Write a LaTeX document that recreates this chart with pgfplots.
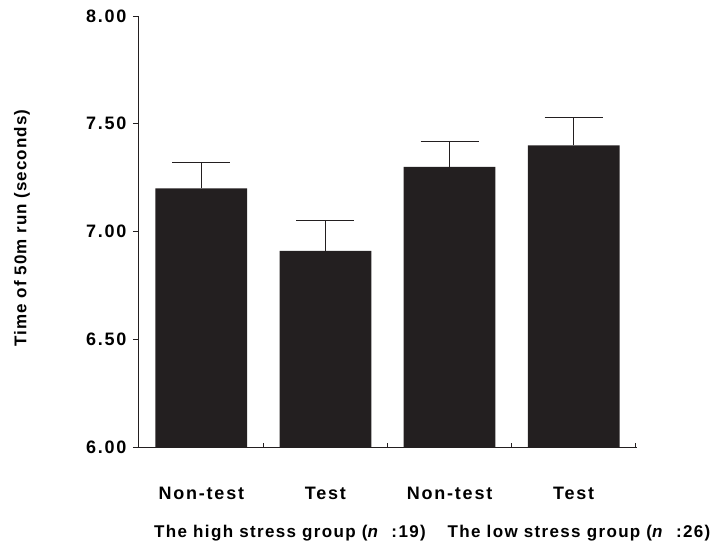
\documentclass[border=0pt]{standalone}
\usepackage{fontspec}
\setmainfont{Liberation Sans}
\newfontfamily\lsfont[LetterSpace=10]{Liberation Sans}
\newfontfamily\lsfontb[LetterSpace=6]{Liberation Sans}
\newfontfamily\lsfontc[LetterSpace=8]{Liberation Sans}
\usepackage{pgfplots}
\pgfplotsset{compat=1.18}
\definecolor{barblack}{RGB}{35,31,32}
\begin{document}
\begin{tikzpicture}
\path[use as bounding box] (-138pt,-107pt) rectangle (576pt,447pt);
\begin{axis}[
  at={(0pt,0pt)}, anchor=south west,
  scale only axis, width=499pt, height=431pt,
  xmin=-0.51, xmax=3.51, ymin=6, ymax=8,
  axis lines=left,
  axis line style={-, line width=0.9pt, color=barblack},
  tick style={line width=0.8pt, color=barblack},
  tick align=outside,
  major tick length=5pt,
  ytick={6,6.5,7,7.5,8},
  /pgf/number format/assume math mode=true,
  yticklabel style={/pgf/number format/.cd, fixed, fixed zerofill, precision=2, /tikz/.cd,
    font=\lsfont\bfseries\fontsize{18}{21}\selectfont, xshift=-3pt},
  xtick={0,1,2,3},
  xticklabels={Non-test,Test,Non-test,Test},
  major x tick style={draw=none},
  minor xtick={0.5,1.5,2.5,3.5},
  minor tick length=4pt,
  minor x tick style={yshift=4pt, line width=0.8pt},
  xticklabel style={font=\lsfont\bfseries\fontsize{18}{21}\selectfont, anchor=center, yshift=-41pt},
]
\addplot[ybar, bar width=0.74, fill=barblack, draw=none,
  error bars/.cd, y dir=plus, y explicit,
  error bar style={line width=0.8pt, color=barblack},
  error mark options={line width=0.8pt, mark size=29pt, rotate=90, color=barblack}]
  coordinates {
  (0,7.20) +- (0,0.12)
  (1,6.91) +- (0,0.14)
  (2,7.30) +- (0,0.12)
  (3,7.40) +- (0,0.13)
};
\end{axis}
\node[font=\lsfontc\bfseries\fontsize{17}{20}\selectfont] at (152pt,-86pt) {The high stress group (\textit{n}\ \ :19)};
\node[font=\lsfontc\bfseries\fontsize{17}{20}\selectfont] at (441pt,-86pt) {The low stress group (\textit{n}\ \ :26)};
\node[font=\lsfontb\bfseries\fontsize{17}{20}\selectfont, rotate=90] at (-116pt,219pt) {Time of 50m run (seconds)};
\end{tikzpicture}
\end{document}
